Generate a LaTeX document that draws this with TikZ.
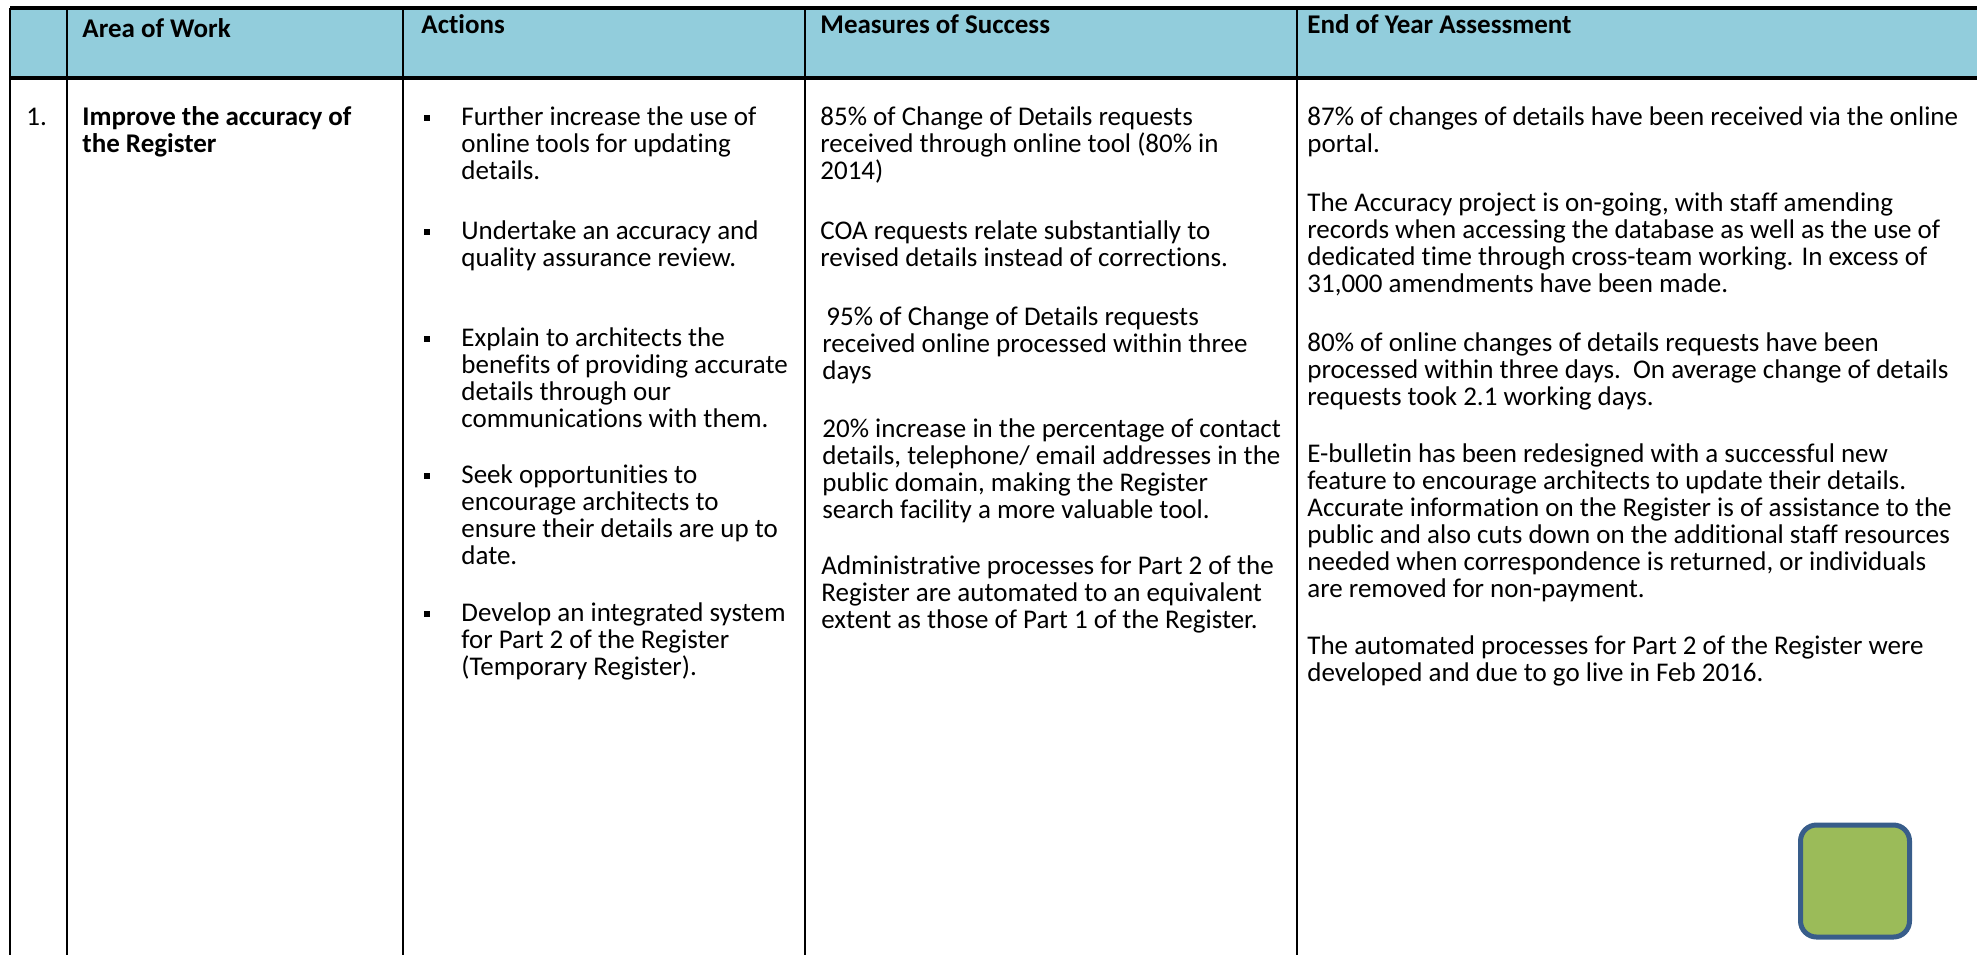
\documentclass[tikz,border=0pt]{standalone}
\usepackage{fontspec}
\setmainfont{Carlito}[Ligatures=NoCommon]
\definecolor{hdrblue}{HTML}{92CDDC}
\definecolor{ragfill}{HTML}{9BBB59}
\definecolor{ragline}{HTML}{385D8A}
\tikzset{
	cell/.style={anchor=north west,inner sep=0pt,align=left,font=\fontsize{13.5}{13.5}\selectfont,execute at begin node=\strut},
	bcell/.style={cell,font=\fontsize{13.5}{13.5}\selectfont\bfseries},
	head/.style={anchor=base west,inner sep=0pt,font=\fontsize{13.5}{13.5}\selectfont\bfseries},
	bul/.style={rectangle,fill,inner sep=0pt,minimum size=3.2pt},
	ragbox/.style={rectangle,rounded corners=8pt,draw=ragline,fill=ragfill,line width=2.5pt,minimum width=54.5pt,minimum height=56pt}
}

\begin{document}
\begin{tikzpicture}[x=0.5pt,y=-0.5pt]
	\useasboundingbox (0,0) rectangle (1977,955);
	\fill[hdrblue] (10,8) rectangle (1977,78);
	\draw[line width=2pt] (10,8) -- (1977,8);
	\draw[line width=1.6pt] (10,78) -- (1977,78);
	\foreach \x in {10,67,403,805,1297}
		\draw[line width=1.2pt] (\x,8) -- (\x,955);

	\node [head] (hArea) at (82,37) {Area of Work};
	\node [head] (hAct) at (421,33) {Actions};
	\node [head] (hMeas) at (820,33) {Measures of Success};
	\node [head] (hEnd) at (1307,33) {End of Year Assessment};

	\node [cell] (num) at (26,106) {1.};
	\node [bcell] (area) at (82,106) {Improve the accuracy of\\the Register};

	\node [cell] (act1) at (461,106) {Further increase the use of\\online tools for updating\\details.};
	\node [cell] (act2) at (461,220) {Undertake an accuracy and\\quality assurance review.};
	\node [cell] (act3) at (461,327) {Explain to architects the\\benefits of providing accurate\\details through our\\communications with them.};
	\node [cell] (act4) at (461,464) {Seek opportunities to\\encourage architects to\\ensure their details are up to\\date.};
	\node [cell] (act5) at (461,602) {Develop an integrated system\\for Part 2 of the Register\\(Temporary Register).};
	\foreach \n in {1,...,5}
		\node [bul,xshift=-17pt,yshift=-6pt] (b\n) at (act\n.north west) {};

	\node [cell] (ms1) at (820,106) {85\% of Change of Details requests\\received through online tool (80\% in\\2014)};
	\node [cell] (ms2) at (820,220) {COA requests relate substantially to\\revised details instead of corrections.};
	\node [cell] (ms3) at (822,306) {\hspace{2pt}95\% of Change of Details requests\\received online processed within three\\days};
	\node [cell] (ms4) at (822,418) {20\% increase in the percentage of contact\\details, telephone/ email addresses in the\\public domain, making the Register\\search facility a more valuable tool.};
	\node [cell] (ms5) at (821,555) {Administrative processes for Part 2 of the\\Register are automated to an equivalent\\extent as those of Part 1 of the Register.};

	\node [cell] (ey1) at (1307,106) {87\% of changes of details have been received via the online\\portal.};
	\node [cell] (ey2) at (1307,192) {The Accuracy project is on-going, with staff amending\\records when accessing the database as well as the use of\\dedicated time through cross-team working. In excess of\\31,000 amendments have been made.};
	\node [cell] (ey3) at (1307,332) {80\% of online changes of details requests have been\\processed within three days.\ \ On average change of details\\requests took 2.1 working days.};
	\node [cell] (ey4) at (1307,443) {E-bulletin has been redesigned with a successful new\\feature to encourage architects to update their details.\\Accurate information on the Register is of assistance to the\\public and also cuts down on the additional staff resources\\needed when correspondence is returned, or individuals\\are removed for non-payment.};
	\node [cell] (ey5) at (1307,635) {The automated processes for Part 2 of the Register were\\developed and due to go live in Feb 2016.};

	\node [ragbox] (rag) at (1855,881) {};
\end{tikzpicture}
\end{document}
